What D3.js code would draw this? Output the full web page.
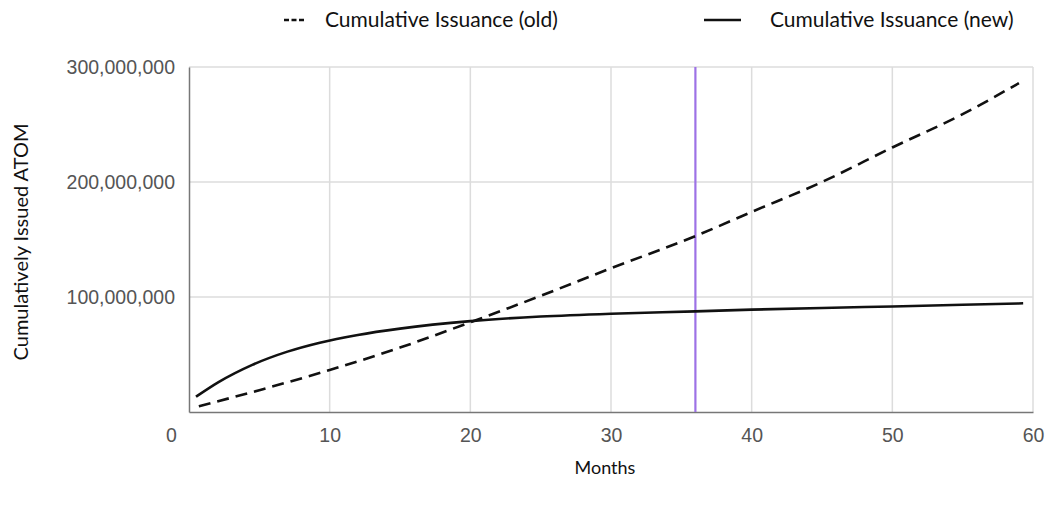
<!DOCTYPE html>
<html>
<head>
<meta charset="utf-8">
<script src="https://cdn.jsdelivr.net/npm/d3@7"></script>
<style>
  body { margin: 0; background: #fff; }
  svg { display: block; font-family: Lato, "Open Sans", sans-serif; }
</style>
</head>
<body>
<div id="chart"></div>
<script>
// values (months, millions of ATOM)
const oldMonths = [0.7, 5, 10, 15, 20, 25, 30, 36, 40, 45, 50, 55, 59];
const oldValues = [5, 19, 36.5, 56, 78, 101, 125, 153, 174, 200, 230, 259, 286];
const newMonths = [0.5, 2.1, 4.5, 7, 9.3, 12, 15, 20, 25, 30, 36, 40, 45, 50, 55, 59.3];
const newValues = [13.3, 26, 41, 52.5, 60.3, 67, 72.5, 79, 83, 85.5, 87.5, 89, 90.5, 91.8, 93.2, 94.5];
const xTicks = [0, 10, 20, 30, 40, 50, 60];
const yTicks = [100e6, 200e6, 300e6];
const markerMonth = 36;

const width = 1046, height = 505;
const margin = { top: 67, right: 13, bottom: 93, left: 189 };
const w = width - margin.left - margin.right;
const h = height - margin.top - margin.bottom;

const svg = d3.select('#chart')
  .append('svg')
  .attr('width', width)
  .attr('height', height);

const g = svg.append('g')
  .attr('transform', `translate(${margin.left},${margin.top})`);

const x = d3.scaleLinear().domain([0, 60]).range([0, w]);
const y = d3.scaleLinear().domain([0, 300e6]).range([h, 0]);

// grid
g.append('g')
  .selectAll('line')
  .data(xTicks.slice(1))
  .enter().append('line')
  .attr('x1', d => x(d)).attr('x2', d => x(d))
  .attr('y1', 0).attr('y2', h)
  .attr('stroke', '#dcdcdc').attr('stroke-width', 1.5);

g.append('g')
  .selectAll('line')
  .data(yTicks)
  .enter().append('line')
  .attr('x1', 0).attr('x2', w)
  .attr('y1', d => y(d)).attr('y2', d => y(d))
  .attr('stroke', '#dcdcdc').attr('stroke-width', 1.5);

// axes (left and bottom drawn darker)
const xAxis = g.append('g')
  .attr('transform', `translate(0,${h})`)
  .call(d3.axisBottom(x).tickValues(xTicks).tickSize(0).tickPadding(16));
xAxis.select('.domain').attr('stroke', '#777').attr('stroke-width', 1.5);
xAxis.selectAll('text')
  .attr('fill', '#555')
  .style('font-size', '19.5px')
  .attr('dx', d => d === 0 ? -18 : 0);

const yAxis = g.append('g')
  .call(d3.axisLeft(y).tickValues(yTicks).tickSize(0).tickPadding(14).tickFormat(d3.format(',')));
yAxis.select('.domain').attr('stroke', '#777').attr('stroke-width', 1.5);
yAxis.selectAll('text')
  .attr('fill', '#555')
  .style('font-size', '19.5px');

// marker line at month 36
g.append('line')
  .attr('x1', x(markerMonth)).attr('x2', x(markerMonth))
  .attr('y1', 0).attr('y2', h)
  .attr('stroke', '#9d72e6').attr('stroke-width', 2.2);

// series
const line = d3.line()
  .x(d => x(d[0]))
  .y(d => y(d[1] * 1e6))
  .curve(d3.curveMonotoneX);

g.append('path')
  .datum(d3.zip(oldMonths, oldValues))
  .attr('fill', 'none')
  .attr('stroke', '#111')
  .attr('stroke-width', 2.6)
  .attr('stroke-dasharray', '12,7')
  .attr('d', line);

g.append('path')
  .datum(d3.zip(newMonths, newValues))
  .attr('fill', 'none')
  .attr('stroke', '#111')
  .attr('stroke-width', 2.6)
  .attr('d', line);

// axis titles
svg.append('text')
  .attr('x', 605)
  .attr('y', 474)
  .attr('text-anchor', 'middle')
  .attr('fill', '#111')
  .style('font-size', '18px')
  .text('Months');

svg.append('text')
  .attr('transform', 'translate(28,242) rotate(-90)')
  .attr('text-anchor', 'middle')
  .attr('fill', '#111')
  .style('font-size', '20px')
  .text('Cumulatively Issued ATOM');

// legend
const legend = svg.append('g')
  .selectAll('g')
  .data([
    { label: 'Cumulative Issuance (old)', dash: '5,2.5', x0: 284, x1: 306, tx: 325 },
    { label: 'Cumulative Issuance (new)', dash: null, x0: 704, x1: 741, tx: 770 }
  ])
  .enter().append('g');

legend.append('line')
  .attr('x1', d => d.x0).attr('x2', d => d.x1)
  .attr('y1', 20).attr('y2', 20)
  .attr('stroke', '#111').attr('stroke-width', 2.6)
  .attr('stroke-dasharray', d => d.dash);

legend.append('text')
  .attr('x', d => d.tx)
  .attr('y', 27)
  .attr('fill', '#111')
  .style('font-size', '21px')
  .text(d => d.label);
</script>
</body>
</html>
